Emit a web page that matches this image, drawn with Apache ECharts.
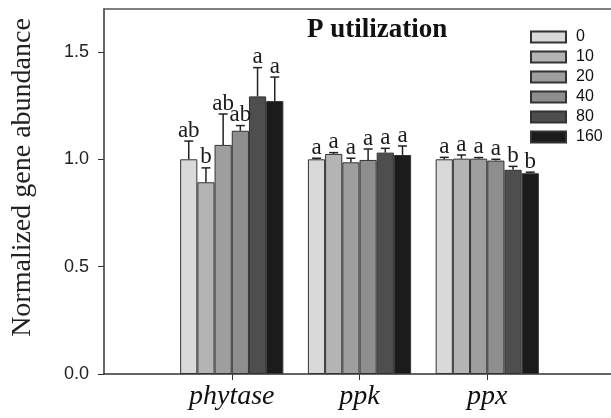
<!DOCTYPE html>
<html>
<head>
<meta charset="utf-8">
<script src="https://cdn.jsdelivr.net/npm/echarts@6/dist/echarts.min.js"></script>
<style>html,body{margin:0;padding:0;background:#fff;overflow:hidden}#c{width:611px;height:418px}</style>
</head>
<body>
<div id="c"></div>
<script>
const categories = ['', 'phytase', 'ppk', 'ppx', ''];
const doses = ['0', '10', '20', '40', '80', '160'];
const yTicks = [0, 0.5, 1.0, 1.5];
// means per gene, ordered by dose
const phytaseMean = [1.00, 0.893, 1.067, 1.133, 1.293, 1.271];
const ppkMean = [1.00, 1.025, 0.986, 0.997, 1.031, 1.020];
const ppxMean = [1.00, 1.003, 1.003, 0.994, 0.951, 0.935];
// standard errors (upper bar)
const phytaseErr = [0.085, 0.067, 0.144, 0.024, 0.134, 0.112];
const ppkErr = [0.005, 0.006, 0.019, 0.051, 0.020, 0.042];
const ppxErr = [0.009, 0.017, 0.005, 0.006, 0.016, 0.005];
// significance letters
const phytaseLetters = ['ab', 'b', 'ab', 'ab', 'a', 'a'];
const ppkLetters = ['a', 'a', 'a', 'a', 'a', 'a'];
const ppxLetters = ['a', 'a', 'a', 'a', 'b', 'b'];

const colors = ['#d9d9d9', '#b4b4b4', '#9e9e9e', '#8e8e8e', '#4e4e4e', '#1b1b1b'];
const BAR_W = 17.2;
const serif = 'Liberation Serif';
const sans = 'Liberation Sans';

const means = [phytaseMean, ppkMean, ppxMean];
const errs = [phytaseErr, ppkErr, ppxErr];
const letters = [phytaseLetters, ppkLetters, ppxLetters];

const barSeries = doses.map((d, i) => ({
  name: d,
  type: 'bar',
  barWidth: BAR_W,
  barGap: '0%',
  data: [null, means[0][i], means[1][i], means[2][i], null],
  itemStyle: { color: colors[i], borderColor: '#333', borderWidth: 1 },
  z: 2
}));

const errData = [];
const errLetters = [];
for (let g = 0; g < 3; g++) {
  for (let i = 0; i < doses.length; i++) {
    errData.push([g + 1, means[g][i], errs[g][i], i]);
    errLetters.push(letters[g][i]);
  }
}

const errSeries = {
  type: 'custom',
  z: 5,
  silent: true,
  data: errData,
  encode: { x: 0, y: 1 },
  renderItem: function (params, api) {
    const cat = api.value(0), m = api.value(1), e = api.value(2), d = api.value(3);
    const base = api.coord([cat, m]);
    const top = api.coord([cat, m + e]);
    const x = base[0] + (d - 2.5) * BAR_W;
    return {
      type: 'group',
      children: [
        { type: 'line', shape: { x1: x, y1: base[1], x2: x, y2: top[1] }, style: { stroke: '#222', lineWidth: 1.5 } },
        { type: 'line', shape: { x1: x - 4.5, y1: top[1], x2: x + 4.5, y2: top[1] }, style: { stroke: '#222', lineWidth: 1.5 } },
        { type: 'text', style: { text: errLetters[params.dataIndex], x: x, y: top[1] + 1, align: 'center', verticalAlign: 'bottom', fontFamily: serif, fontSize: 23, fill: '#1a1a1a' } }
      ]
    };
  }
};

const chart = echarts.init(document.getElementById('c'), null, { renderer: 'canvas' });
chart.setOption({
  animation: false,
  backgroundColor: '#fff',
  title: {
    text: 'P utilization',
    left: 307, top: 17, padding: 0,
    textStyle: { fontFamily: serif, fontWeight: 'bold', fontSize: 27, color: '#111' }
  },
  legend: {
    data: doses,
    orient: 'vertical',
    left: 530, top: 29, padding: 0,
    icon: 'rect',
    itemWidth: 35, itemHeight: 11, itemGap: 4,
    textStyle: { fontFamily: sans, fontSize: 16, color: '#111', padding: [0, 0, 0, 5] }
  },
  grid: {
    left: 104, width: 511, top: 9, bottom: 44,
    show: false,
    outerBoundsMode: 'none',
    containLabel: false
  },
  xAxis: [{
    type: 'category',
    data: categories,
    boundaryGap: false,
    axisLine: { lineStyle: { color: '#333', width: 1.5 } },
    axisTick: { show: true, length: 6, lineStyle: { color: '#333' }, interval: (i) => i >= 1 && i <= 3 },
    axisLabel: { fontFamily: serif, fontStyle: 'italic', fontSize: 28, color: '#111', margin: 9, interval: 0 },
    splitLine: { show: false }
  }, {
    type: 'category',
    data: categories,
    boundaryGap: false,
    position: 'top',
    axisLine: { show: true, lineStyle: { color: '#555', width: 1.5 } },
    axisTick: { show: false },
    axisLabel: { show: false },
    splitLine: { show: false }
  }],
  yAxis: {
    type: 'value',
    min: 0, max: 1.7, interval: 0.5,
    name: 'Normalized gene abundance',
    nameLocation: 'middle',
    nameGap: 67,
    nameTextStyle: { fontFamily: serif, fontSize: 28, color: '#222', padding: [0, 0, 0, 28] },
    axisLine: { show: true, lineStyle: { color: '#333', width: 1.5 } },
    axisTick: { show: true, length: 6, lineStyle: { color: '#333' }, customValues: yTicks },
    axisLabel: { fontFamily: sans, fontSize: 18, color: '#222', margin: 15, customValues: yTicks, formatter: (v) => v.toFixed(1) },
    splitLine: { show: false }
  },
  series: [...barSeries, errSeries]
});
</script>
</body>
</html>
